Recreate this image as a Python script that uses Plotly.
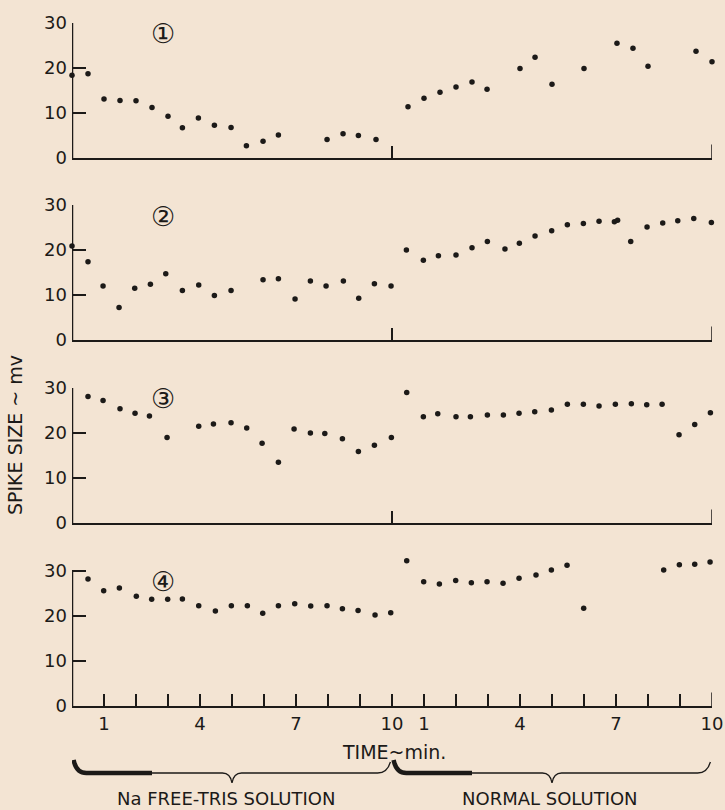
import plotly.graph_objects as go

# ---------------- data (time in minutes: 0-10 Na-free Tris, 10-20 normal) ----------------
t1 = [0.0, 0.5, 1.0, 1.5, 2.0, 2.5, 3.0, 3.45, 3.95, 4.45, 4.97, 5.45, 5.97, 6.45,
      7.97, 8.47, 8.95, 9.5,
      10.5, 11.0, 11.5, 12.0, 12.5, 12.97, 14.0, 14.47, 15.0, 16.0, 17.03, 17.53,
      18.0, 19.5, 20.0]
v1 = [18.4, 18.7, 13.1, 12.8, 12.7, 11.2, 9.3, 6.7, 8.9, 7.3, 6.8, 2.7, 3.7, 5.1,
      4.1, 5.4, 5.0, 4.1,
      11.4, 13.3, 14.6, 15.8, 16.9, 15.3, 19.9, 22.4, 16.4, 19.9, 25.5, 24.4,
      20.4, 23.7, 21.4]

t2 = [0.0, 0.5, 0.97, 1.47, 1.96, 2.45, 2.93, 3.45, 3.96, 4.45, 4.97, 5.97, 6.45,
      6.97, 7.45, 7.94, 8.48, 8.96, 9.45, 9.97,
      10.45, 10.98, 11.45, 12.0, 12.5, 12.98, 13.53, 13.98, 14.47, 14.99, 15.48,
      15.98, 16.47, 16.95, 17.05, 17.46, 17.97, 18.46, 18.93, 19.43, 19.98]
v2 = [20.9, 17.4, 12.0, 7.2, 11.5, 12.4, 14.7, 11.0, 12.2, 9.9, 11.0, 13.4, 13.6,
      9.1, 13.1, 12.0, 13.1, 9.3, 12.5, 12.0,
      20.0, 17.7, 18.7, 18.9, 20.5, 21.9, 20.2, 21.5, 23.1, 24.3, 25.6,
      25.9, 26.4, 26.3, 26.6, 21.9, 25.1, 26.0, 26.5, 27.0, 26.1]

t3 = [0.5, 0.97, 1.5, 1.97, 2.42, 2.97, 3.96, 4.42, 4.97, 5.46, 5.94, 6.45, 6.94,
      7.45, 7.9, 8.45, 8.95, 9.45, 9.98,
      10.46, 10.98, 11.43, 12.0, 12.45, 12.98, 13.48, 13.97, 14.46, 14.98, 15.48,
      15.98, 16.47, 16.98, 17.48, 17.96, 18.44, 18.97, 19.46, 19.95]
v3 = [28.1, 27.2, 25.4, 24.4, 23.8, 19.0, 21.5, 22.0, 22.3, 21.1, 17.7, 13.5, 20.9,
      20.0, 19.9, 18.7, 15.9, 17.3, 19.0,
      29.0, 23.6, 24.3, 23.6, 23.6, 24.0, 24.0, 24.4, 24.7, 25.1, 26.4,
      26.4, 26.0, 26.4, 26.5, 26.3, 26.4, 19.6, 21.9, 24.5]

t4 = [0.5, 0.99, 1.48, 2.01, 2.49, 2.99, 3.45, 3.96, 4.48, 4.98, 5.48, 5.96, 6.45,
      6.96, 7.46, 7.97, 8.45, 8.94, 9.47, 9.96,
      10.46, 10.99, 11.48, 11.99, 12.48, 12.97, 13.47, 13.97, 14.5, 14.98, 15.47,
      15.99, 18.49, 18.98, 19.46, 19.94]
v4 = [28.2, 25.6, 26.2, 24.4, 23.7, 23.7, 23.8, 22.3, 21.1, 22.3, 22.3, 20.6, 22.3,
      22.7, 22.2, 22.3, 21.6, 21.2, 20.2, 20.7,
      32.3, 27.6, 27.1, 27.9, 27.4, 27.6, 27.3, 28.4, 29.1, 30.2, 31.3,
      21.7, 30.2, 31.4, 31.5, 32.0]

series = [(t1, v1), (t2, v2), (t3, v3), (t4, v4)]
panel_labels = ["①", "②", "③", "④"]

x_tickvals = list(range(1, 21))
x_ticktext = ["1", "", "", "4", "", "", "7", "", "", "10",
              "1", "", "", "4", "", "", "7", "", "", "10"]
y_tickvals = [0, 10, 20, 30]
y_ticktext = ["0", "10", "20", "30"]
y_axis_top = 30          # printed y-axis runs 0..30
y_range_max = [30, 30, 30, 33]   # panel 4 has points above 30
x_end = 20

# ---------------- layout geometry (pixels) ----------------
W, H = 725, 810
L, R, T, B = 72, 13, 10, 104
PW, PH = W - L - R, H - T - B
panel_px = [(23, 158), (205, 340), (388, 523), (571, 706)]  # pixel rows of y=30 and y=0


def py(y):
    return (H - B - y) / PH


def px(x):
    return (x - L) / PW


BG = "#f3e4d3"
INK = "#1c1a18"
FONT = "'DejaVu Sans', sans-serif"

fig = go.Figure()
for i, (tt, vv) in enumerate(series, start=1):
    fig.add_trace(go.Scatter(
        x=tt, y=vv, mode="markers",
        marker=dict(size=5.5, color=INK),
        xaxis=f"x{i}" if i > 1 else "x", yaxis=f"y{i}" if i > 1 else "y",
        cliponaxis=False, showlegend=False, hoverinfo="skip"))

layout = dict(
    width=W, height=H,
    margin=dict(l=L, r=R, t=T, b=B, autoexpand=False),
    paper_bgcolor=BG, plot_bgcolor=BG,
    font=dict(family=FONT, color=INK, size=17),
    showlegend=False,
)

shapes = []
for i in range(1, 5):
    top, bot = panel_px[i - 1]
    ymax = y_range_max[i - 1]
    top_ext = bot - (bot - top) * ymax / y_axis_top
    sx = "" if i == 1 else str(i)
    last = i == 4
    layout[f"xaxis{sx}"] = dict(
        domain=[0, 1], anchor=f"y{sx}", range=[0, x_end],
        showline=True, linecolor=INK, linewidth=2,
        showgrid=False, zeroline=False, automargin=False,
        ticks="inside", ticklen=12, tickwidth=1.5, tickcolor=INK,
        tickvals=x_tickvals if last else [10, 20],
        ticktext=x_ticktext if last else ["", ""],
        showticklabels=last,
        tickfont=dict(size=18, family=FONT, color=INK),
        ticklabelstandoff=0,
        fixedrange=True,
    )
    layout[f"yaxis{sx}"] = dict(
        domain=[py(bot), py(top_ext)], anchor=f"x{sx}", range=[0, ymax],
        showline=False,
        showgrid=False, zeroline=False, automargin=False,
        ticks="inside", ticklen=14, tickwidth=1.5, tickcolor=INK,
        tickvals=y_tickvals, ticktext=y_ticktext,
        tickfont=dict(size=18, family=FONT, color=INK),
        ticklabelstandoff=4,
        fixedrange=True,
    )
    # printed y-axis line from 0 to 30
    shapes.append(dict(type="line", xref=f"x{sx}", yref=f"y{sx}",
                       x0=0, x1=0, y0=0, y1=y_axis_top,
                       line=dict(color=INK, width=2.5)))
    # closing tick at the right end of each time axis
    shapes.append(dict(type="line", xref=f"x{sx}", yref=f"y{sx}",
                       x0=x_end, x1=x_end, y0=0, y1=3.0,
                       line=dict(color=INK, width=1.5)))

annotations = []
circ_y = [34, 216, 398, 581]
for lab, cy in zip(panel_labels, circ_y):
    annotations.append(dict(
        text=lab, x=px(163), y=py(cy), xref="paper", yref="paper",
        xanchor="center", yanchor="middle",
        showarrow=False, font=dict(size=27, family="DejaVu Sans", color=INK)))

annotations.append(dict(
    text="SPIKE SIZE ~ mv", textangle=-90, x=px(15), y=py(435),
    xref="paper", yref="paper", xanchor="center", yanchor="middle", showarrow=False,
    font=dict(size=19, family=FONT, color=INK)))
annotations.append(dict(
    text="TIME~min.", x=px(394), y=py(752), xref="paper", yref="paper",
    xanchor="center", yanchor="middle",
    showarrow=False, font=dict(size=19, family=FONT, color=INK)))
annotations.append(dict(
    text="Na FREE-TRIS SOLUTION", x=px(226), y=py(798), xref="paper", yref="paper",
    xanchor="center", yanchor="middle",
    showarrow=False, font=dict(size=18, family=FONT, color=INK)))
annotations.append(dict(
    text="NORMAL SOLUTION", x=px(550), y=py(798), xref="paper", yref="paper",
    xanchor="center", yanchor="middle",
    showarrow=False, font=dict(size=18, family=FONT, color=INK)))
layout["annotations"] = annotations


def brace(x0, x1):
    xm = (x0 + x1) / 2
    yb, ye, yp = py(773), py(762), py(783)
    return (f"M {x0},{ye} Q {x0+0.1},{yb} {x0+0.4},{yb} L {xm-0.3},{yb} "
            f"Q {xm-0.05},{yb} {xm},{yp} Q {xm+0.05},{yb} {xm+0.3},{yb} "
            f"L {x1-0.4},{yb} Q {x1-0.1},{yb} {x1},{ye}")


def thick(x0, x1):
    yb, ye = py(773), py(760)
    return f"M {x0},{ye} Q {x0+0.08},{yb} {x0+0.4},{yb} L {x1},{yb}"


for a, b in [(0.05, 9.95), (10.05, 19.95)]:
    shapes.append(dict(type="path", xref="x4", yref="paper", path=brace(a, b),
                       line=dict(color=INK, width=1.3)))
for a, b in [(0.05, 2.5), (10.05, 12.5)]:
    shapes.append(dict(type="path", xref="x4", yref="paper", path=thick(a, b),
                       line=dict(color=INK, width=4.5)))
layout["shapes"] = shapes

fig.update_layout(**layout)
fig.write_html(
    "out.html",
    config={"displayModeBar": False, "staticPlot": True},
    post_script="document.body.style.margin='0';document.body.style.padding='0';"
                "document.body.style.background='" + BG + "';"
                "document.body.style.overflow='hidden';",
)
